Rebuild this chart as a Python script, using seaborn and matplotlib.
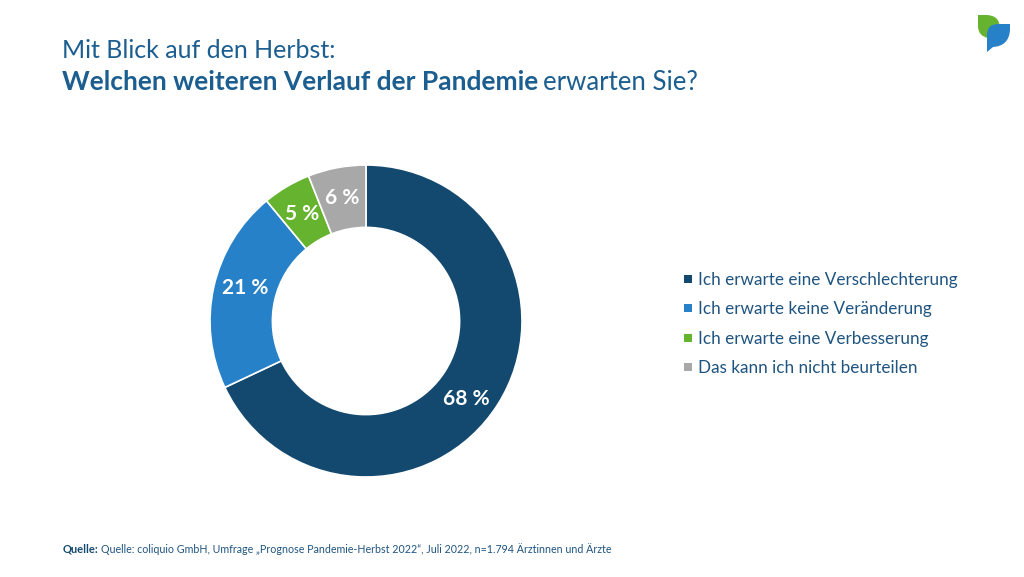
import numpy as np
import matplotlib.pyplot as plt
import seaborn as sns
from matplotlib.patches import PathPatch
from matplotlib.path import Path

labels = ['Ich erwarte eine Verschlechterung', 'Ich erwarte keine Veränderung',
          'Ich erwarte eine Verbesserung', 'Das kann ich nicht beurteilen']
values = [68, 21, 5, 6]
percent_labels = ['68 %', '21 %', '5 %', '6 %']
colors = ['#14496f', '#2681c8', '#65b32e', '#a8a8a8']

sns.set_theme(style='white')
plt.rcParams['font.family'] = ['Lato', 'DejaVu Sans']

fig = plt.figure(figsize=(10.24, 5.77), dpi=100)
bg = fig.add_axes([0, 0, 1, 1])
bg.set_xlim(0, 1024)
bg.set_ylim(577, 0)
bg.axis('off')

# donut
ax = fig.add_axes([210 / 1024, 1 - 477 / 577, 312 / 1024, 312 / 577])
ax.pie(values, colors=colors, startangle=90, counterclock=False, radius=1,
       wedgeprops=dict(width=0.4, edgecolor='white', linewidth=1.2))
ax.set_xlim(-1, 1)
ax.set_ylim(-1, 1)

# labels sit a bit off the wedge middle in the original
nudge = {'68 %': (-0.032, -0.07), '21 %': (0.006, 0.038)}
angle = 90
for v, txt in zip(values, percent_labels):
    mid = np.deg2rad(angle - v * 3.6 / 2)
    dx, dy = nudge.get(txt, (0, 0))
    ax.text(0.8 * np.cos(mid) + dx, 0.8 * np.sin(mid) + dy, txt, color='white', fontsize=15,
            fontweight='bold', ha='center', va='center')
    angle -= v * 3.6

# title
dark_blue = '#1b5e8f'
bg.text(62, 58, 'Mit Blick auf den Herbst:', fontsize=18, color=dark_blue, va='baseline')
bg.text(62, 90, 'Welchen weiteren Verlauf der Pandemie', fontsize=19, color=dark_blue,
        fontweight='bold', va='baseline')
bg.text(543, 90, 'erwarten Sie?', fontsize=18.5, color=dark_blue, va='baseline')

# legend
for i, (label, c) in enumerate(zip(labels, colors)):
    bg.scatter(687.5, 279 + i * 29.3, marker='s', s=33, color=c, linewidths=0)
    bg.text(698, 285 + i * 29.3, label, fontsize=12.3, color='#1f5480', va='baseline')

# source
bg.text(63, 553, 'Quelle:', fontsize=8, color='#14496f', fontweight='bold', va='baseline')
bg.text(101, 553, 'Quelle: coliquio GmbH, Umfrage „Prognose Pandemie-Herbst 2022“, Juli 2022, n=1.794 Ärztinnen und Ärzte',
        fontsize=7.65, color='#1f5480', va='baseline')

# logo
green = PathPatch(Path([(978, 15), (986, 15), (1000, 15), (1000, 29), (1000, 38), (988, 38), (978, 36), (978, 26), (978, 15)],
                       [Path.MOVETO, Path.LINETO, Path.CURVE3, Path.CURVE3, Path.LINETO, Path.LINETO,
                        Path.CURVE3, Path.CURVE3, Path.CLOSEPOLY]),
                  facecolor='#65b32e', edgecolor='none')
blue = PathPatch(Path([(1010, 24), (998, 24), (987, 24), (987, 35), (987, 52), (993, 47), (1009, 46), (1010, 30), (1010, 24)],
                      [Path.MOVETO, Path.LINETO, Path.CURVE3, Path.CURVE3, Path.LINETO, Path.LINETO,
                       Path.CURVE3, Path.CURVE3, Path.CLOSEPOLY]),
                 facecolor='#2681c8', edgecolor='none')
bg.add_patch(green)
bg.add_patch(blue)

fig.savefig('out.png', dpi=100)
